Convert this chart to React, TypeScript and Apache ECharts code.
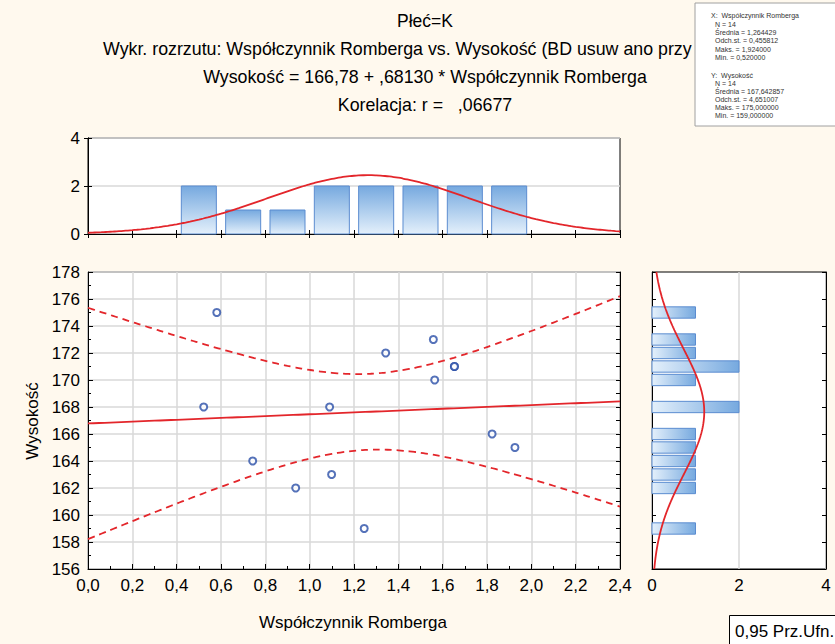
import React, { useEffect, useRef } from 'react';
import * as echarts from 'echarts';

// ---- data ----
const romberg = [0.522, 0.581, 1.09, 0.743, 0.937, 1.099, 1.246, 1.343, 1.558, 1.564, 1.653, 1.653, 1.823, 1.926];
const wysokosc = [168, 175, 168, 164, 162, 163, 159, 172, 173, 170, 171, 171, 166, 165];

const xBinCenters = [0.5, 0.7, 0.9, 1.1, 1.3, 1.5, 1.7, 1.9];
const xBinCounts = [2, 1, 1, 2, 2, 2, 2, 2];
const yBinCenters = [159, 162, 163, 164, 165, 166, 168, 170, 171, 172, 173, 175];
const yBinCounts = [1, 1, 1, 1, 1, 1, 2, 1, 2, 1, 1, 1];

const statN = 14;
const xMean = 1.264429, xSd = 0.455812, xMax = 1.924, xMin = 0.52;
const yMean = 167.642857, ySd = 4.651007, yMax = 175, yMin = 159;
const intercept = 166.78, slope = 0.6813, corr = 0.06677;
const tCrit = 2.1788; // t(0.975, 12)

const FONT = '"Liberation Sans", Arial, sans-serif';
const RED = '#E3262B';

const fmt6 = (v: number) => v.toFixed(6).replace('.', ',');
const pdf = (v: number, m: number, s: number) => Math.exp(-0.5 * ((v - m) / s) ** 2) / (s * Math.sqrt(2 * Math.PI));

export default function App() {
  const ref = useRef<HTMLDivElement>(null);
  useEffect(() => {
    if (!ref.current) return;
    const chart = echarts.init(ref.current, null, { renderer: 'svg' });

    // regression + confidence bands
    const sxx = (statN - 1) * xSd * xSd;
    const sse = (1 - corr * corr) * (statN - 1) * ySd * ySd;
    const sRes = Math.sqrt(sse / (statN - 2));
    const regLine: number[][] = [];
    const upper: number[][] = [];
    const lower: number[][] = [];
    for (let i = 0; i <= 96; i++) {
      const x = i * 0.025;
      const yh = intercept + slope * x;
      const hw = tCrit * sRes * Math.sqrt(1 / statN + ((x - xMean) ** 2) / sxx);
      regLine.push([x, yh]);
      upper.push([x, yh + hw]);
      lower.push([x, yh - hw]);
    }
    const topCurve: number[][] = [];
    for (let i = 0; i <= 120; i++) {
      const x = i * 0.02;
      topCurve.push([x, statN * 0.2 * pdf(x, xMean, xSd)]);
    }
    const rightCurve: number[][] = [];
    for (let i = 0; i <= 220; i++) {
      const y = 156 + i * 0.1;
      rightCurve.push([statN * 1 * pdf(y, yMean, ySd), y]);
    }

    const topGrad = new echarts.graphic.LinearGradient(0, 0, 0, 1, [
      { offset: 0, color: '#76A9DF' },
      { offset: 1, color: '#E4F0FB' },
    ]);
    const rightGrad = new echarts.graphic.LinearGradient(0, 0, 1, 0, [
      { offset: 0, color: '#E4F0FB' },
      { offset: 1, color: '#76A9DF' },
    ]);

    const labelStyle = { color: '#000', fontSize: 17, fontFamily: FONT };
    const gridLine = { show: true, lineStyle: { color: '#D9D9D9', width: 1.5 } };
    const axisLine = { show: true, lineStyle: { color: '#000', width: 1 } };

    const statsLines = [
      { t: 'X:  Współczynnik Romberga', x: 711, y: 15 },
      { t: 'N = ' + statN, x: 715, y: 24 },
      { t: 'Średnia = ' + fmt6(xMean), x: 715, y: 32.5 },
      { t: 'Odch.st. = ' + fmt6(xSd), x: 715, y: 40.5 },
      { t: 'Maks. = ' + fmt6(xMax), x: 715, y: 49 },
      { t: 'Min. = ' + fmt6(xMin), x: 715, y: 57.5 },
      { t: 'Y:  Wysokość', x: 711, y: 75 },
      { t: 'N = ' + statN, x: 715, y: 83.5 },
      { t: 'Średnia = ' + fmt6(yMean), x: 715, y: 91.5 },
      { t: 'Odch.st. = ' + fmt6(ySd), x: 715, y: 99.5 },
      { t: 'Maks. = ' + fmt6(yMax), x: 715, y: 107.5 },
      { t: 'Min. = ' + fmt6(yMin), x: 715, y: 115.5 },
    ];

    const option: any = {
      animation: false,
      backgroundColor: '#FFF9EE',
      grid: [
        { left: 88, top: 138, width: 532, height: 96, show: true, backgroundColor: '#fff', borderColor: '#000', borderWidth: 1 },
        { left: 88, top: 272, width: 532, height: 297, show: true, backgroundColor: '#fff', borderColor: '#000', borderWidth: 1 },
        { left: 652, top: 272, width: 174, height: 297, show: true, backgroundColor: '#fff', borderColor: '#000', borderWidth: 1 },
      ],
      xAxis: [
        { gridIndex: 0, type: 'value', min: 0, max: 2.4, interval: 0.2, axisLine, axisLabel: { show: false }, axisTick: { show: true, inside: true, length: 4, lineStyle: { color: '#000' } }, splitLine: { show: false } },
        { gridIndex: 0, type: 'value', position: 'top', min: 0, max: 2.4, interval: 0.2, axisLine, axisLabel: { show: false }, axisTick: { show: true, inside: true, length: 4, lineStyle: { color: '#000' } }, splitLine: { show: false } },
        {
          gridIndex: 1, type: 'value', min: 0, max: 2.4, interval: 0.2, axisLine,
          axisLabel: { ...labelStyle, margin: 8, formatter: (v: number) => v.toFixed(1).replace('.', ',') },
          axisTick: { show: true, inside: true, length: 5, lineStyle: { color: '#000' } },
          minorTick: { show: true, splitNumber: 2, length: 3, lineStyle: { color: '#000' } },
          splitLine: gridLine,
        },
        {
          gridIndex: 2, type: 'value', min: 0, max: 4, interval: 2, axisLine,
          axisLabel: { ...labelStyle, margin: 8 },
          axisTick: { show: false },
          splitLine: gridLine,
        },
      ],
      yAxis: [
        { gridIndex: 0, type: 'value', min: 0, max: 4, interval: 2, axisLine, axisLabel: { ...labelStyle, margin: 8 }, axisTick: { show: true, inside: true, length: 4, lineStyle: { color: '#000' } }, splitLine: gridLine },
        { gridIndex: 0, type: 'value', position: 'right', min: 0, max: 4, interval: 2, axisLine, axisLabel: { show: false }, axisTick: { show: true, inside: true, length: 4, lineStyle: { color: '#000' } }, splitLine: { show: false } },
        {
          gridIndex: 1, type: 'value', min: 156, max: 178, interval: 2, axisLine,
          axisLabel: { ...labelStyle, margin: 8 },
          axisTick: { show: true, inside: true, length: 5, lineStyle: { color: '#000' } },
          minorTick: { show: true, splitNumber: 2, length: 3, lineStyle: { color: '#000' } },
          splitLine: gridLine,
        },
        { gridIndex: 1, type: 'value', position: 'right', min: 156, max: 178, interval: 1, axisLine, axisLabel: { show: false }, axisTick: { show: true, inside: true, length: 4, lineStyle: { color: '#000' } }, splitLine: { show: false } },
        { gridIndex: 2, type: 'value', min: 156, max: 178, interval: 2, axisLine, axisLabel: { show: false }, axisTick: { show: true, inside: true, length: 4, lineStyle: { color: '#000' } }, splitLine: { show: false } },
        { gridIndex: 2, type: 'value', position: 'right', min: 156, max: 178, interval: 2, axisLine, axisLabel: { show: false }, axisTick: { show: true, inside: true, length: 4, lineStyle: { color: '#000' } }, splitLine: { show: false } },
      ],
      series: [
        {
          type: 'custom', xAxisIndex: 0, yAxisIndex: 0,
          data: xBinCenters.map((c, i) => [c, xBinCounts[i]]),
          renderItem: (_p: any, api: any) => {
            const c = api.value(0), v = api.value(1);
            const a = api.coord([c - 0.079, v]);
            const b = api.coord([c + 0.079, 0]);
            return { type: 'rect', shape: { x: a[0], y: a[1], width: b[0] - a[0], height: b[1] - a[1] }, style: { fill: topGrad, stroke: '#5B8CD0', lineWidth: 1 } };
          },
          z: 2,
        },
        {
          type: 'line', xAxisIndex: 0, yAxisIndex: 0, data: topCurve, showSymbol: false, smooth: true,
          lineStyle: { color: RED, width: 1.8 }, z: 3,
        },
        {
          type: 'custom', xAxisIndex: 3, yAxisIndex: 4,
          data: yBinCenters.map((c, i) => [yBinCounts[i], c]),
          renderItem: (_p: any, api: any) => {
            const v = api.value(0), c = api.value(1);
            const a = api.coord([0, c + 0.42]);
            const b = api.coord([v, c - 0.42]);
            return { type: 'rect', shape: { x: a[0], y: a[1], width: b[0] - a[0], height: b[1] - a[1] }, style: { fill: rightGrad, stroke: '#5B8CD0', lineWidth: 1 } };
          },
          z: 2,
        },
        {
          type: 'line', xAxisIndex: 3, yAxisIndex: 4, data: rightCurve, showSymbol: false,
          lineStyle: { color: RED, width: 1.8 }, z: 3,
        },
        {
          type: 'line', xAxisIndex: 2, yAxisIndex: 2, data: regLine, showSymbol: false,
          lineStyle: { color: RED, width: 1.8 }, z: 3,
        },
        {
          type: 'line', xAxisIndex: 2, yAxisIndex: 2, data: upper, showSymbol: false, smooth: true,
          lineStyle: { color: RED, width: 1.8, type: [7, 5] }, z: 3,
        },
        {
          type: 'line', xAxisIndex: 2, yAxisIndex: 2, data: lower, showSymbol: false, smooth: true,
          lineStyle: { color: RED, width: 1.8, type: [7, 5] }, z: 3,
        },
        {
          type: 'scatter', xAxisIndex: 2, yAxisIndex: 2,
          data: romberg.map((x, i) => [x, wysokosc[i]]),
          symbol: 'emptyCircle', symbolSize: 7,
          itemStyle: { color: '#2B4FA8', borderColor: '#2B4FA8', borderWidth: 1.6 },
          z: 4,
        },
      ],
      graphic: [
        { type: 'text', x: 425, y: 21, style: { text: 'Płeć=K', font: `17.5px ${FONT}`, fill: '#000', textAlign: 'center', textVerticalAlign: 'middle' } },
        { type: 'text', x: 103, y: 49, style: { text: 'Wykr. rozrzutu: Współczynnik Romberga vs. Wysokość (BD usuw ano przy', font: `17.8px ${FONT}`, fill: '#000', textAlign: 'left', textVerticalAlign: 'middle' } },
        { type: 'text', x: 425, y: 77, style: { text: `Wysokość = ${intercept.toFixed(2).replace('.', ',')} + ,${slope.toFixed(5).split('.')[1]} * Współczynnik Romberga`, font: `17.8px ${FONT}`, fill: '#000', textAlign: 'center', textVerticalAlign: 'middle' } },
        { type: 'text', x: 425, y: 105, style: { text: `Korelacja: r =   ,${corr.toFixed(5).split('.')[1]}`, font: `17.8px ${FONT}`, fill: '#000', textAlign: 'center', textVerticalAlign: 'middle' } },
        { type: 'rect', shape: { x: 695, y: 3, width: 145, height: 123 }, style: { fill: '#fff', stroke: '#A0A0A0', lineWidth: 1 }, z: 10 },
        ...statsLines.map((l) => ({ type: 'text', x: l.x, y: l.y, z: 11, style: { text: l.t, font: `7px ${FONT}`, fill: '#333', textVerticalAlign: 'middle' } })),
        { type: 'text', x: 32, y: 421, rotation: Math.PI / 2, style: { text: 'Wysokość', font: `17px ${FONT}`, fill: '#000', textAlign: 'center', textVerticalAlign: 'middle' } },
        { type: 'text', x: 353, y: 622, style: { text: 'Współczynnik Romberga', font: `17px ${FONT}`, fill: '#000', textAlign: 'center', textVerticalAlign: 'middle' } },
        { type: 'rect', shape: { x: 729.5, y: 615.5, width: 120, height: 40 }, style: { fill: '#fff', stroke: '#000', lineWidth: 1 } },
        { type: 'text', x: 735, y: 631, style: { text: '0,95 Prz.Ufn.', font: `17px ${FONT}`, fill: '#000', textVerticalAlign: 'middle' } },
      ],
    };
    chart.setOption(option);
    return () => chart.dispose();
  }, []);
  return <div ref={ref} style={{ position: 'fixed', left: 0, top: 0, width: 835, height: 644 }} />;
}
